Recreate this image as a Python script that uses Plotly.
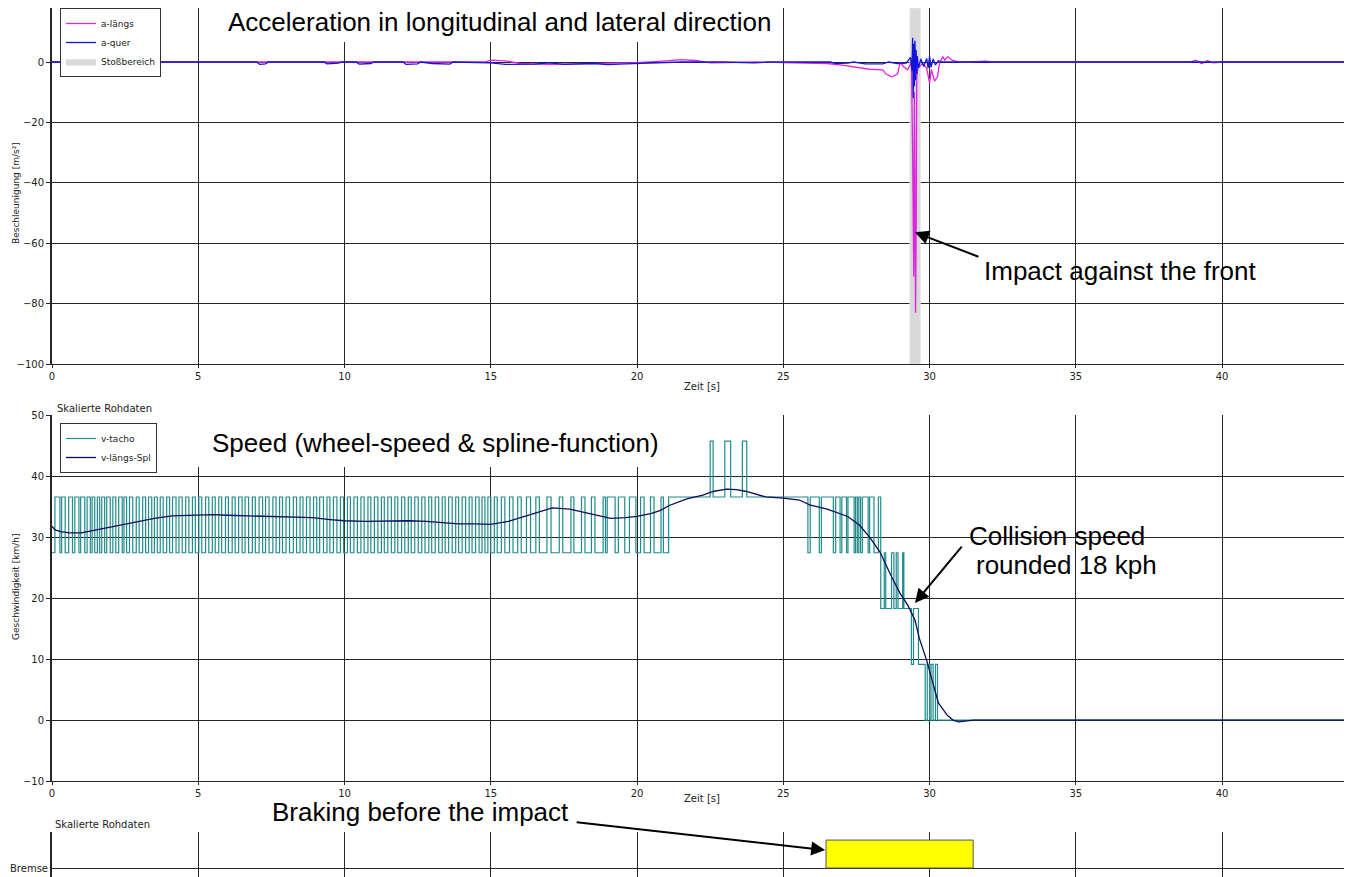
import plotly.graph_objects as go

# page is rendered with an 8px body margin; figure is sized/positioned to compensate
OFF = 8
W, H = 1352 - OFF, 877 - OFF

# ---------------- data ----------------
time_ticks = [0, 5, 10, 15, 20, 25, 30, 35, 40]
acc_ticks = [-100, -80, -60, -40, -20, 0]
speed_ticks = [-10, 0, 10, 20, 30, 40, 50]
brake_ticks = [0, 1]
brake_ticktext = ["Bremse", ""]

# longitudinal acceleration a-längs [m/s²]
a_laengs_t = [0, 2.9, 3.1, 3.3, 3.5, 3.7, 14.8, 15.0, 15.5, 16.0, 17.0, 18.0, 19.0, 20.0,
              21.0, 21.5, 22.0, 22.5, 23.0, 24.0, 25.0, 26.0, 26.5, 27.0, 27.4, 27.95,
              28.4, 28.5, 28.7, 28.9, 29.0, 29.1, 29.25, 29.38, 29.42, 29.46, 29.48,
              29.50, 29.52, 29.54, 29.56, 29.60, 29.65, 29.76, 29.9, 30.0, 30.06, 30.17,
              30.27, 30.33, 30.45, 30.52, 30.57, 30.62, 30.78, 31.0, 31.35, 31.7, 31.95,
              32.1, 38.9, 39.1, 39.3, 39.5, 39.7, 40.0, 44.44]
a_laengs = [0, 0, -0.5, -0.3, -0.6, 0, 0, 0.6, 0.4, -0.5, -0.8, -0.6, -0.4, -0.2,
            0.4, 0.8, 0.5, -0.3, -0.2, 0, -0.2, -0.3, -0.5, -1.0, -1.5, -2.4,
            -2.6, -3.9, -4.9, -4.0, 0, -1.5, -2.6, 0, -30, -71, -10,
            -40, -83, -56, -5, -2, -1.5, -0.5, -2, -7, -2.5, -6.3,
            -5, -0.8, 1.8, 0.6, 1.2, 1.8, 0.5, 0, 0, 0.3, 0.3,
            0, 0, 0.6, -0.6, 0.4, -0.3, 0, 0]

# lateral acceleration a-quer [m/s²]
a_quer_t = [0, 2.4, 2.5, 2.9, 3.0, 3.2, 3.6, 3.7, 7.0, 7.1, 7.3, 7.4, 9.3, 9.4, 9.8, 9.9,
            10.4, 10.5, 10.9, 11.0, 12.0, 12.1, 12.5, 12.6, 13.0, 13.6, 13.7, 15.0, 15.5,
            16.5, 17.0, 17.5, 18.5, 19.0, 19.6, 20.2, 21.0, 21.5, 23.0, 24.0, 24.5, 26.6,
            26.8, 27.2, 27.4, 27.8, 28.4, 28.6, 28.9, 29.2, 29.35, 29.40, 29.42, 29.44,
            29.46, 29.48, 29.50, 29.52, 29.54, 29.56, 29.58, 29.62, 29.70, 29.80, 29.90,
            29.95, 30.0, 30.05, 30.12, 30.2, 30.3, 30.4, 44.44]
a_quer = [0, 0, -0.5, -0.5, 0, -0.6, -0.6, 0, 0, -0.8, -0.6, 0, 0, -0.6, -0.4, 0,
          0, -0.7, -0.5, 0, 0, -0.8, -0.6, 0, -0.5, -0.7, 0, -0.3, -0.8,
          -0.7, -0.3, -0.8, -0.5, -0.9, -0.6, -0.4, -0.2, 0, 0, -0.3, 0, 0,
          -0.5, -0.4, 0, -0.6, -0.6, 0, -0.5, -0.4, 1.5, -3, 8, -12,
          6, -8, 7, -6, 4, -4, 2, -2, 1, -1.5, 1.2,
          -2, 2, -1.8, 1, -1, 0.5, 0, 0]

# impact zone (Stoßbereich) [s]
stoss_t = [29.33, 29.68]

# wheel speed v-tacho [km/h], (switch time, level)
tacho_steps = [
    (0.00, 27.45), (0.10, 36.6), (0.27, 27.45), (0.33, 36.6), (0.45, 27.45), (0.57, 36.6),
    (0.70, 27.45), (0.78, 36.6), (0.92, 27.45), (0.98, 36.6), (1.12, 27.45), (1.20, 36.6),
    (1.31, 27.45), (1.37, 36.6), (1.46, 27.45), (1.55, 36.6), (1.63, 27.45), (1.70, 36.6),
    (1.80, 27.45), (1.87, 36.6), (1.99, 27.45), (2.08, 36.6), (2.18, 27.45), (2.28, 36.6),
    (2.40, 27.45), (2.46, 36.6), (2.55, 27.45), (2.65, 36.6), (2.76, 27.45), (2.88, 36.6),
    (2.98, 27.45), (3.10, 36.6), (3.20, 27.45), (3.30, 36.6), (3.41, 27.45), (3.50, 36.6),
    (3.60, 27.45), (3.70, 36.6), (3.80, 27.45), (3.92, 36.6), (4.02, 27.45), (4.12, 36.6),
    (4.24, 27.45), (4.34, 36.6), (4.45, 27.45), (4.57, 36.6), (4.68, 27.45), (4.80, 36.6),
    (4.90, 27.45), (5.02, 36.6), (5.12, 27.45), (5.25, 36.6), (5.36, 27.45), (5.48, 36.6),
    (5.58, 27.45), (5.70, 36.6), (5.80, 27.45), (5.93, 36.6), (6.03, 27.45), (6.16, 36.6),
    (6.26, 27.45), (6.38, 36.6), (6.50, 27.45), (6.60, 36.6), (6.72, 27.45), (6.85, 36.6),
    (6.95, 27.45), (7.08, 36.6), (7.20, 27.45), (7.30, 36.6), (7.42, 27.45), (7.55, 36.6),
    (7.66, 27.45), (7.78, 36.6), (7.88, 27.45), (8.00, 36.6), (8.12, 27.45), (8.25, 36.6),
    (8.36, 27.45), (8.48, 36.6), (8.58, 27.45), (8.70, 36.6), (8.82, 27.45), (8.94, 36.6),
    (9.05, 27.45), (9.15, 36.6), (9.28, 27.45), (9.40, 36.6), (9.50, 27.45), (9.62, 36.6),
    (9.74, 27.45), (9.86, 36.6), (9.97, 27.45), (10.10, 36.6), (10.20, 27.45), (10.32, 36.6),
    (10.44, 27.45), (10.56, 36.6), (10.67, 27.45), (10.80, 36.6), (10.90, 27.45), (11.02, 36.6),
    (11.14, 27.45), (11.26, 36.6), (11.36, 27.45), (11.48, 36.6), (11.60, 27.45), (11.72, 36.6),
    (11.82, 27.45), (11.95, 36.6), (12.06, 27.45), (12.18, 36.6), (12.28, 27.45), (12.40, 36.6),
    (12.52, 27.45), (12.64, 36.6), (12.75, 27.45), (12.88, 36.6), (12.98, 27.45), (13.10, 36.6),
    (13.22, 27.45), (13.34, 36.6), (13.44, 27.45), (13.56, 36.6), (13.68, 27.45), (13.80, 36.6),
    (13.90, 27.45), (14.02, 36.6), (14.14, 27.45), (14.26, 36.6), (14.36, 27.45), (14.48, 36.6),
    (14.60, 27.45), (14.70, 36.6), (14.80, 27.45), (14.90, 36.6), (15.00, 27.45), (15.12, 36.6),
    (15.22, 27.45), (15.36, 36.6), (15.48, 27.45), (15.64, 36.6), (15.76, 27.45), (15.92, 36.6),
    (16.04, 27.45), (16.22, 36.6), (16.36, 27.45), (16.54, 36.6), (16.66, 27.45), (16.92, 36.6),
    (17.06, 27.45), (17.34, 36.6), (17.46, 27.45), (17.74, 36.6), (17.84, 27.45), (18.10, 36.6),
    (18.22, 27.45), (18.44, 36.6), (18.56, 27.45), (18.84, 36.6), (18.92, 27.45), (18.98, 36.6),
    (19.25, 27.45), (19.36, 36.6), (19.58, 27.45), (19.74, 36.6), (19.96, 27.45), (20.12, 36.6),
    (20.24, 27.45), (20.46, 36.6), (20.58, 27.45), (20.82, 36.6), (20.90, 27.45), (21.08, 36.6),
    (22.50, 45.75), (22.60, 36.6), (23.00, 45.75), (23.20, 36.6), (23.60, 45.75), (23.75, 36.6),
    (25.84, 27.45), (25.92, 36.6), (26.23, 27.45), (26.30, 36.6), (26.71, 27.45), (26.79, 36.6),
    (26.94, 27.45), (27.00, 36.6), (27.16, 27.45), (27.21, 36.6), (27.42, 27.45), (27.47, 36.6),
    (27.53, 27.45), (27.58, 36.6), (27.64, 27.45), (27.70, 36.6), (27.90, 27.45), (27.95, 36.6),
    (28.10, 27.45), (28.25, 36.6), (28.33, 18.3), (28.45, 27.45), (28.50, 18.3), (28.70, 27.45),
    (28.78, 18.3), (28.86, 27.45), (28.92, 18.3), (29.08, 27.45), (29.12, 18.3), (29.38, 9.15),
    (29.45, 18.3), (29.62, 9.15), (29.85, 0.0), (29.92, 9.15), (30.00, 0.0), (30.05, 9.15),
    (30.12, 0.0), (30.20, 9.15), (30.27, 0.0), (44.44, 0.0),
]
tacho_t = [p[0] for p in tacho_steps]
tacho_v = [p[1] for p in tacho_steps]

# spline speed v-längs-Spl [km/h]
spline_t = [0, 0.1, 0.3, 0.6, 1.0, 1.5, 2.0, 2.6, 3.0, 3.5, 4.1, 4.8, 5.5, 6.0, 6.6, 7.2,
            7.7, 8.3, 8.9, 9.5, 10.0, 10.7, 11.5, 12.2, 12.8, 13.4, 13.9, 14.5, 15.0, 15.6,
            16.2, 16.7, 17.1, 17.7, 18.1, 18.5, 19.1, 19.6, 20.0, 20.5, 20.8, 21.1, 21.5,
            21.7, 22.25, 22.6, 23.06, 23.4, 23.74, 24.2, 24.4, 25.0, 25.55, 25.9, 26.5,
            27.2, 27.6, 27.95, 28.3, 28.7, 29.0, 29.25, 29.5, 29.65, 29.9, 30.1, 30.3,
            30.6, 30.8, 31.0, 31.2, 31.5, 44.44]
spline_v = [31.8, 31.2, 30.9, 30.7, 30.7, 31.2, 31.6, 32.3, 32.7, 33.1, 33.5, 33.6, 33.7,
            33.6, 33.5, 33.5, 33.3, 33.3, 33.2, 32.9, 32.7, 32.6, 32.7, 32.7, 32.6, 32.4,
            32.2, 32.2, 32.1, 32.6, 33.5, 34.3, 34.8, 34.6, 34.2, 33.7, 33.1, 33.2, 33.4,
            33.9, 34.4, 35.2, 36.0, 36.3, 36.9, 37.5, 37.9, 37.8, 37.5, 36.9, 36.6, 36.4,
            36.1, 35.3, 34.6, 33.4, 32.0, 30.0, 27.6, 23.5, 20.7, 18.9, 16.4, 13.4, 9.8,
            6.3, 2.8, 0.8, 0.0, -0.3, -0.2, 0.0, 0.0]

# brake signal (Bremse)
brake_t = [26.46, 31.49]
brake_on = 0.78

# ---------------- styling helpers ----------------
XMAX = 44.44
GRID = "#262626"
SMALL = dict(family="DejaVu Sans", size=10, color="#222")
BIG = dict(family="Liberation Sans, Arial", size=26, color="black")


def px(x):
    """page pixel x -> paper fraction"""
    return (x - OFF) / W


def py(y):
    """page pixel y -> paper fraction"""
    return 1 - (y - OFF) / H


# top panel: 0 at page y 62, -100 at page y 364; top of figure is page y 8
ACC_TOP = (62 - OFF) / 3.02

fig = go.Figure()

# top panel
fig.add_trace(go.Scatter(x=[stoss_t[0], stoss_t[0], stoss_t[1], stoss_t[1], stoss_t[0]],
                         y=[-100, ACC_TOP, ACC_TOP, -100, -100], fill="toself",
                         fillcolor="#d9d9d9", line=dict(color="#e3e3e3", width=1),
                         mode="lines", name="Stoßbereich", legendrank=3,
                         xaxis="x", yaxis="y", legend="legend", hoverinfo="skip"))
fig.add_trace(go.Scatter(x=a_laengs_t, y=a_laengs, mode="lines", name="a-längs",
                         line=dict(color="#e023e0", width=1.3), legendrank=1,
                         xaxis="x", yaxis="y", legend="legend"))
fig.add_trace(go.Scatter(x=a_quer_t, y=a_quer, mode="lines", name="a-quer",
                         line=dict(color="#1414d8", width=1.3), legendrank=2,
                         xaxis="x", yaxis="y", legend="legend"))

# middle panel
fig.add_trace(go.Scatter(x=tacho_t, y=tacho_v, mode="lines", name="v-tacho",
                         line=dict(color="#218c8c", width=1.2, shape="hv"),
                         xaxis="x2", yaxis="y2", legend="legend2"))
fig.add_trace(go.Scatter(x=spline_t, y=spline_v, mode="lines", name="v-längs-Spl",
                         line=dict(color="#0b0b5e", width=1.3),
                         xaxis="x2", yaxis="y2", legend="legend2"))

# bottom panel (brake)
fig.add_trace(go.Scatter(x=[brake_t[0], brake_t[0], brake_t[1], brake_t[1], brake_t[0]],
                         y=[0, brake_on, brake_on, 0, 0], fill="toself",
                         fillcolor="#ffff00", line=dict(color="#555", width=1),
                         mode="lines", showlegend=False, xaxis="x3", yaxis="y3"))

xcommon = dict(range=[0, XMAX], tickmode="array", tickvals=time_ticks, showgrid=True,
               gridcolor=GRID, gridwidth=1, zeroline=False, showline=True,
               linecolor=GRID, linewidth=1, ticks="outside", ticklen=3, tickcolor=GRID,
               tickfont=SMALL, domain=[px(52), 1], automargin=False)
ycommon = dict(showgrid=True, gridcolor=GRID, gridwidth=1, zeroline=False, showline=True,
               linecolor=GRID, linewidth=2, ticks="outside", ticklen=4, tickcolor=GRID,
               tickfont=SMALL, tickmode="array", automargin=False)

fig.update_layout(
    template="none",
    width=W, height=H, margin=dict(l=0, r=0, t=0, b=0, pad=0),
    paper_bgcolor="white", plot_bgcolor="white",
    xaxis=dict(xcommon, anchor="y"),
    yaxis=dict(ycommon, domain=[py(364), 1], range=[-100, ACC_TOP], tickvals=acc_ticks,
               anchor="x"),
    xaxis2=dict(xcommon, anchor="y2"),
    yaxis2=dict(ycommon, domain=[py(781), py(415)], range=[-10, 50.05],
                tickvals=speed_ticks, anchor="x2"),
    xaxis3=dict(xcommon, anchor="y3", showticklabels=False, showline=False, ticks=""),
    yaxis3=dict(ycommon, domain=[0, py(832)], range=[-0.25, 1.005], tickvals=brake_ticks,
                ticktext=brake_ticktext, anchor="x3", ticks=""),
    legend=dict(x=px(60), y=py(8), xanchor="left", yanchor="top", bgcolor="white",
                bordercolor="#333", borderwidth=1, itemwidth=30, tracegroupgap=0,
                font=dict(family="DejaVu Sans", size=9, color="#222")),
    legend2=dict(x=px(60), y=py(423), xanchor="left", yanchor="top", bgcolor="white",
                 bordercolor="#333", borderwidth=1, itemwidth=30, tracegroupgap=0,
                 font=dict(family="DejaVu Sans", size=9, color="#222")),
    showlegend=True,
)

# white boxes behind the panel titles
fig.add_shape(type="rect", xref="paper", yref="paper", x0=px(205), x1=px(778),
              y0=py(42), y1=1, fillcolor="white", line=dict(width=0), layer="above")
fig.add_shape(type="rect", xref="paper", yref="paper", x0=px(188), x1=px(705),
              y0=py(467), y1=py(413), fillcolor="white", line=dict(width=0), layer="above")

ann = []
ann.append(dict(text="Acceleration in longitudinal and lateral direction", x=px(500), y=py(22),
                xref="paper", yref="paper", showarrow=False, font=BIG,
                xanchor="center", yanchor="middle"))
ann.append(dict(text="Speed (wheel-speed & spline-function)", x=px(435), y=py(443),
                xref="paper", yref="paper", showarrow=False, font=BIG,
                xanchor="center", yanchor="middle"))
ann.append(dict(text="Impact against the front", x=px(982), y=py(271), xref="paper",
                yref="paper", showarrow=False, font=BIG, xanchor="left", yanchor="middle"))
ann.append(dict(text="Collision speed", x=px(967), y=py(536), xref="paper", yref="paper",
                showarrow=False, font=BIG, xanchor="left", yanchor="middle"))
ann.append(dict(text="rounded 18 kph", x=px(974), y=py(565), xref="paper", yref="paper",
                showarrow=False, font=BIG, xanchor="left", yanchor="middle"))
ann.append(dict(text="Braking before the impact", x=px(420), y=py(812), xref="paper",
                yref="paper", showarrow=False, font=BIG, xanchor="center", yanchor="middle"))
# small labels
ann.append(dict(text="Skalierte Rohdaten", x=px(55), y=py(409), xref="paper", yref="paper",
                showarrow=False, font=SMALL, xanchor="left", yanchor="middle"))
ann.append(dict(text="Skalierte Rohdaten", x=px(53), y=py(824), xref="paper", yref="paper",
                showarrow=False, font=SMALL, xanchor="left", yanchor="middle"))
ann.append(dict(text="Zeit [s]", x=px(702), y=py(386), xref="paper", yref="paper",
                showarrow=False, font=SMALL, xanchor="center", yanchor="middle"))
ann.append(dict(text="Zeit [s]", x=px(702), y=py(798), xref="paper", yref="paper",
                showarrow=False, font=SMALL, xanchor="center", yanchor="middle"))
ann.append(dict(text="Beschleunigung [m/s²]", x=px(16), y=py(193), xref="paper", yref="paper",
                showarrow=False, font=dict(family="DejaVu Sans", size=9, color="#222"),
                textangle=-90, xanchor="center", yanchor="middle"))
ann.append(dict(text="Geschwindigkeit [km/h]", x=px(16), y=py(587), xref="paper", yref="paper",
                showarrow=False, font=dict(family="DejaVu Sans", size=9, color="#222"),
                textangle=-90, xanchor="center", yanchor="middle"))
# arrows
arrow = dict(showarrow=True, text="", arrowhead=2, arrowsize=1.4, arrowwidth=2,
             arrowcolor="black", standoff=0, startstandoff=0)
ann.append(dict(arrow, x=29.5, y=-56.4, xref="x", yref="y", ax=65, ay=25))
ann.append(dict(arrow, x=29.5, y=19.2, xref="x2", yref="y2", ax=48, ay=-58))
ann.append(dict(arrow, x=26.43, y=0.5, xref="x3", yref="y3", ax=-250, ay=-28))

fig.update_layout(annotations=ann)

fig.write_html("out.html")
